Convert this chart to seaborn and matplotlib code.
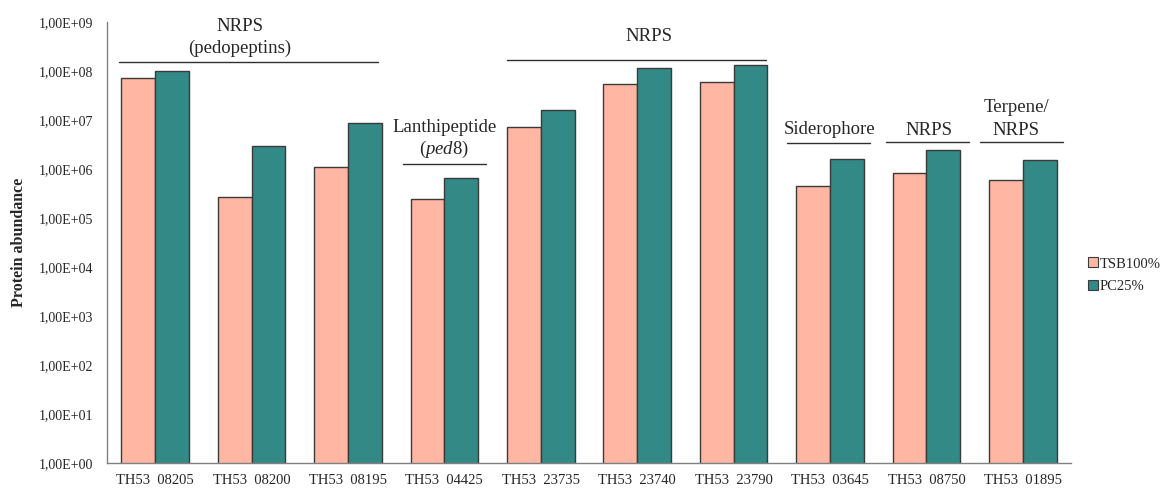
import numpy as np
import pandas as pd
import matplotlib
matplotlib.use("Agg")
import matplotlib.pyplot as plt
import matplotlib.ticker as mticker
from matplotlib.lines import Line2D
import seaborn as sns

# Gene identifiers (x axis)
genes = ["TH53  08205", "TH53  08200", "TH53  08195", "TH53  04425", "TH53  23735",
         "TH53  23740", "TH53  23790", "TH53  03645", "TH53  08750", "TH53  01895"]
conditions = ["TSB100%", "PC25%"]
tsb100 = [7.3e7, 2.7e5, 1.1e6, 2.4e5, 7.1e6, 5.4e7, 6.0e7, 4.6e5, 8.3e5, 5.9e5]
pc25 = [1.0e8, 3.0e6, 8.8e6, 6.6e5, 1.63e7, 1.16e8, 1.3e8, 1.58e6, 2.4e6, 1.55e6]
colors = ["#FFB6A3", "#338985"]

df = pd.DataFrame({
    "gene": genes * 2,
    "condition": [conditions[0]] * len(genes) + [conditions[1]] * len(genes),
    "abundance": tsb100 + pc25,
})

sns.set_style("white")
plt.rcParams["font.family"] = ["Liberation Serif", "DejaVu Serif"]
plt.rcParams["mathtext.fontset"] = "custom"
plt.rcParams["mathtext.rm"] = "Liberation Serif"
plt.rcParams["mathtext.it"] = "Liberation Serif:italic"

fig = plt.figure(figsize=(11.65, 5.0), dpi=100)
ax = fig.add_axes([0.0918, 0.074, 0.8275, 0.882])

sns.barplot(data=df, x="gene", y="abundance", hue="condition", order=genes,
            hue_order=conditions, palette=colors, width=0.7, saturation=1,
            edgecolor="#3a3a3a", linewidth=1.0, legend=False, ax=ax)

ax.set_yscale("log")
ax.set_ylim(1, 1e9)
ax.set_xlim(-0.5, len(genes) - 0.5)

ax.yaxis.set_major_locator(mticker.LogLocator(base=10, numticks=12))
ax.yaxis.set_minor_locator(mticker.LogLocator(base=10, subs=np.arange(2, 10), numticks=12))
ax.yaxis.set_major_formatter(mticker.FuncFormatter(
    lambda v, p: "1,00E+{:02d}".format(int(round(np.log10(v))))))
ax.yaxis.set_minor_formatter(mticker.NullFormatter())
ax.tick_params(axis="y", which="major", direction="out", length=4, width=0.8,
               color="#808080", labelsize=10, pad=6)
ax.tick_params(axis="y", which="minor", direction="out", length=2, width=0.6,
               color="#808080")
ax.tick_params(axis="x", length=0, labelsize=10.5, pad=8)

for side in ["top", "right"]:
    ax.spines[side].set_visible(False)
for side in ["left", "bottom"]:
    ax.spines[side].set_color("#808080")
    ax.spines[side].set_linewidth(1.0)

ax.set_xlabel("")
ax.xaxis.label.set_visible(False)
ax.set_ylabel("Protein abundance", fontsize=11.5, fontweight="bold", labelpad=8)

# Cluster annotations: bracket lines and labels
trans = ax.get_xaxis_transform()
brackets = [(-0.37, 2.31, 0.909), (2.57, 3.43, 0.678), (3.65, 6.34, 0.914),
            (6.55, 7.41, 0.726), (7.58, 8.44, 0.727), (8.56, 9.42, 0.728)]
for x0, x1, yy in brackets:
    ax.add_line(Line2D([x0, x1], [yy, yy], transform=trans, color="#303030",
                       linewidth=1.0, clip_on=False))

fs = 13.5
ax.text(0.88, 0.989, "NRPS", transform=trans, ha="center", va="center", fontsize=fs)
ax.text(0.88, 0.941, "(pedopeptins)", transform=trans, ha="center", va="center", fontsize=fs)
ax.text(3.0, 0.760, "Lanthipeptide", transform=trans, ha="center", va="center", fontsize=fs)
ax.text(3.0, 0.710, "($\\mathit{ped8}$)", transform=trans, ha="center", va="center", fontsize=fs)
ax.text(5.12, 0.968, "NRPS", transform=trans, ha="center", va="center", fontsize=fs)
ax.text(7.0, 0.757, "Siderophore", transform=trans, ha="center", va="center", fontsize=fs)
ax.text(8.03, 0.755, "NRPS", transform=trans, ha="center", va="center", fontsize=fs)
ax.text(8.93, 0.807, "Terpene/", transform=trans, ha="center", va="center", fontsize=fs)
ax.text(8.93, 0.755, "NRPS", transform=trans, ha="center", va="center", fontsize=fs)

handles = [plt.Line2D([], [], marker="s", linestyle="", markersize=7,
                      markerfacecolor=c, markeredgecolor="#3a3a3a", markeredgewidth=0.8)
           for c in colors]
fig.legend(handles, conditions, loc="upper left", bbox_to_anchor=(0.928, 0.497),
           frameon=False, fontsize=10.5, handletextpad=0.1, labelspacing=0.65,
           handlelength=0.8, borderaxespad=0)

fig.savefig("out.png", dpi=100, facecolor="white")
